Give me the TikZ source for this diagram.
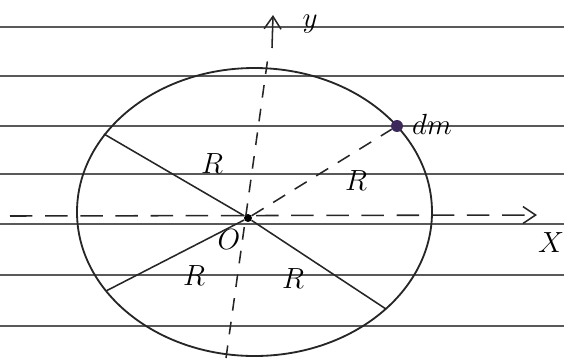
\documentclass[tikz,border=0pt]{standalone}
\usetikzlibrary{arrows.meta}
\begin{document}
\begin{tikzpicture}[x=0.25mm, y=-0.25mm,
		renglon/.style={line width=1.1pt, black!65},
		borde/.style={line width=1.3pt, black!85},
		radio/.style={line width=1.1pt, black!85},
		eje/.style={line width=1.1pt, black!85, dash pattern=on 16pt off 9pt},
		etiqueta/.style={inner sep=0pt, font=\fontsize{20}{22}\selectfont},
		>={Straight Barb[length=9pt,width=12pt]}]
			\useasboundingbox (0,0) rectangle (564,358);
			
			% Renglones del papel
			\draw[renglon] (0,27) -- (564,27);
			\draw[renglon] (0,76) -- (564,76);
			\draw[renglon] (0,126) -- (564,126);
			\draw[renglon] (0,174) -- (564,174);
			\draw[renglon] (0,224) -- (564,224);
			\draw[renglon] (0,275) -- (564,275);
			\draw[renglon] (0,326) -- (564,326);
			
			% Disco
			\coordinate (ctr) at (254.5,212);
			\draw[borde] (ctr) ellipse [x radius=177.5, y radius=144];
			
			% Centro y extremos de los radios
			\node[circle, fill=black, inner sep=2pt] (O) at (248,218) {};
			\coordinate (A) at (104,134);
			\coordinate (B) at (106,291);
			\coordinate (C) at (386,309);
			\node[circle, fill={rgb,255:red,60;green,40;blue,90}, inner sep=3pt] (dm) at (397,126) {};
			
			% Ejes
			\coordinate (xi) at (10,216);
			\coordinate (xf) at (537,215);
			\draw[eje, ->] (xi) -- (xf);
			\coordinate (yi) at (226,358);
			\coordinate (yf) at (268,57);
			\draw[eje, dash pattern=on 9pt off 8pt] (yi) -- (yf);
			\coordinate (ya) at (272,48);
			\coordinate (yb) at (273,15);
			\draw[radio, ->] (ya) -- (yb);
			
			% Radios
			\draw[radio] (O) -- (A);
			\draw[radio] (O) -- (B);
			\draw[radio] (O) -- (C);
			\draw[radio, dash pattern=on 10pt off 8pt] (O) -- (dm);
			
			% Etiquetas
			\node[etiqueta] (ly) at (310,24) {$y$};
			\node[etiqueta] (lx) at (551,243) {$X$};
			\node[etiqueta] (lo) at (229,240) {$O$};
			\node[etiqueta] (ldm) at (432,124) {$dm$};
			\node[etiqueta] (r1) at (212,164) {$R$};
			\node[etiqueta] (r2) at (356,181) {$R$};
			\node[etiqueta] (r3) at (194,276) {$R$};
			\node[etiqueta] (r4) at (293,279) {$R$};
		\end{tikzpicture}
\end{document}
